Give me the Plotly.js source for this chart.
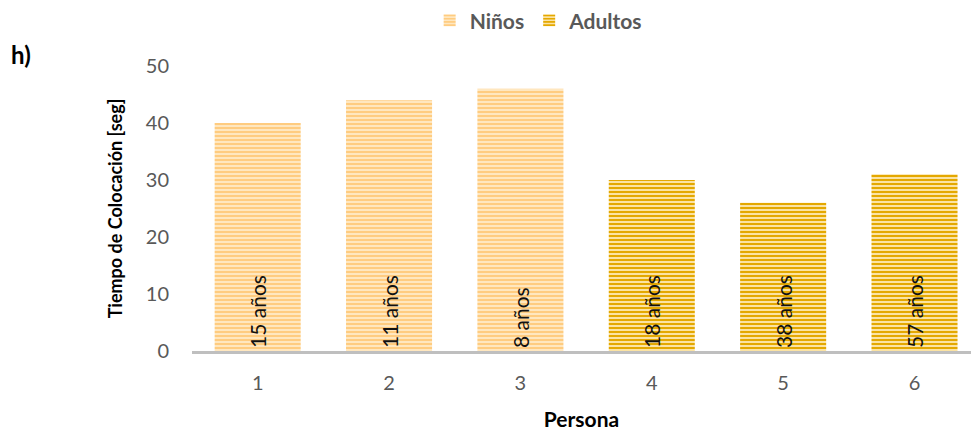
<!DOCTYPE html>
<html>
<head>
<meta charset="utf-8">
<script src="https://cdn.plot.ly/plotly-3.0.1.min.js"></script>
<style>html,body{margin:0;padding:0;background:#fff;}#chart{width:972px;height:432px;}</style>
</head>
<body>
<div id="chart"></div>
<script>
const ninosX = ["1", "2", "3"];
const ninosY = [40, 44, 46];
const ninosLabels = ["15 años", "11 años", "8 años"];
const adultosX = ["4", "5", "6"];
const adultosY = [30, 26, 31];
const adultosLabels = ["18 años", "38 años", "57 años"];
const categories = ["1", "2", "3", "4", "5", "6"];
const yTicks = [0, 10, 20, 30, 40, 50];

const FONT = "Lato, 'Open Sans', sans-serif";

const common = {
  type: "bar",
  textposition: "inside",
  insidetextanchor: "start",
  textangle: -90,
  textfont: {family: FONT, size: 21, color: "#111111"},
  hoverinfo: "skip"
};

const traces = [
  Object.assign({}, common, {
    name: "Niños",
    x: ninosX, y: ninosY, text: ninosLabels,
    marker: {
      color: "#FFE7BF",
      line: {width: 0},
      pattern: {shape: "-", fgcolor: "#FFCC80", bgcolor: "#FFE7BF", size: 4, solidity: 0.5}
    }
  }),
  Object.assign({}, common, {
    name: "Adultos",
    x: adultosX, y: adultosY, text: adultosLabels,
    marker: {
      color: "#FBE3A3",
      line: {width: 0},
      pattern: {shape: "-", fgcolor: "#E4A800", bgcolor: "#FBE3A3", size: 4, solidity: 0.5}
    }
  })
];

const layout = {
  width: 972, height: 432,
  margin: {l: 192, r: 1, t: 65, b: 81},
  paper_bgcolor: "#fff", plot_bgcolor: "#fff",
  barmode: "overlay",
  bargap: 0.345,
  font: {family: FONT, color: "#595959"},
  showlegend: true,
  legend: {
    orientation: "h", x: 0.445, xanchor: "center", y: 1.155, yanchor: "middle",
    font: {family: FONT, size: 21, color: "#595959", weight: "bold"},
    itemwidth: 30, tracegroupgap: 0
  },
  xaxis: {
    type: "category",
    categoryorder: "array", categoryarray: categories,
    range: [-0.5, 5.43],
    showline: true, linecolor: "#BFBFBF", linewidth: 3,
    showgrid: false, zeroline: false, ticks: "",
    tickfont: {family: FONT, size: 20, color: "#595959"},
    ticklabelstandoff: 12,
    title: {text: "Persona", font: {family: FONT, size: 21, color: "#000", weight: "bold"}, standoff: 20}
  },
  yaxis: {
    range: [0, 50],
    tickvals: yTicks,
    showgrid: false, zeroline: false, showline: false, ticks: "",
    tickfont: {family: FONT, size: 20, color: "#595959"},
    ticklabelstandoff: 22,
    title: {text: "Tiempo de Colocación [seg]", font: {family: FONT, size: 18, color: "#000", weight: "bold"}, standoff: 18}
  },
  annotations: [{
    text: "h)", xref: "paper", yref: "paper", x: -0.235, y: 1.04,
    xanchor: "left", yanchor: "middle", showarrow: false,
    font: {family: FONT, size: 24, color: "#000", weight: "bold"}
  }]
};

Plotly.newPlot("chart", traces, layout, {displayModeBar: false, staticPlot: true});
</script>
</body>
</html>
